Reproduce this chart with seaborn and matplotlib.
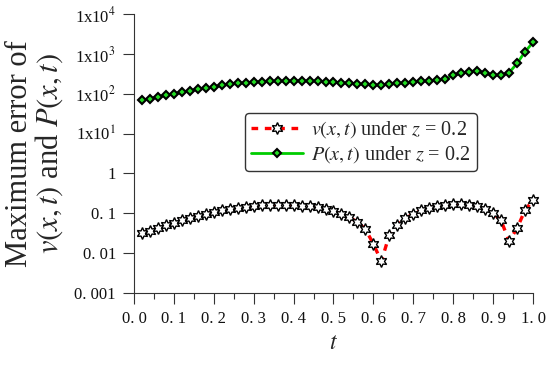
import numpy as np
import pandas as pd
import seaborn as sns
import matplotlib.pyplot as plt
from matplotlib.ticker import FixedLocator

# Data (t = 0.02 ... 1.00)
t_values = [round(0.02 * i, 2) for i in range(1, 51)]

v_error = [0.032, 0.037, 0.043, 0.050, 0.058, 0.068, 0.078, 0.088, 0.098, 0.108,
           0.118, 0.128, 0.138, 0.146, 0.153, 0.158, 0.162, 0.163, 0.161, 0.158,
           0.155, 0.150, 0.140, 0.128, 0.112, 0.097, 0.080, 0.060, 0.040, 0.017,
           0.0062, 0.029, 0.051, 0.075, 0.096, 0.118, 0.138, 0.155, 0.166, 0.172,
           0.172, 0.166, 0.152, 0.130, 0.100, 0.066, 0.020, 0.042, 0.120, 0.215]

p_error = [70, 75, 84, 91, 100, 108, 119, 129, 138, 150,
           163, 172, 182, 190, 197, 202, 205, 207, 209, 210,
           213, 208, 208, 201, 197, 189, 182, 175, 172, 166,
           166, 172, 182, 189, 201, 208, 208, 221, 230, 295,
           324, 357, 379, 324, 295, 295, 337, 578, 1135, 1946]

y_ticks = [1e-3, 1e-2, 1e-1, 1, 1e1, 1e2, 1e3, 1e4]
y_tick_labels = ["0. 001", "0. 01", "0. 1", "1",
                 "1x10$^1$", "1x10$^2$", "1x10$^3$", "1x10$^4$"]
x_ticks = [0.0, 0.1, 0.2, 0.3, 0.4, 0.5, 0.6, 0.7, 0.8, 0.9, 1.0]
x_tick_labels = ["0. 0", "0. 1", "0. 2", "0. 3", "0. 4", "0. 5",
                 "0. 6", "0. 7", "0. 8", "0. 9", "1. 0"]

df = pd.DataFrame({"t": t_values, "v": v_error, "P": p_error})

# Styles
sns.set_theme(style="ticks")
plt.rcParams["font.family"] = ["Liberation Serif", "DejaVu Serif"]
plt.rcParams["mathtext.fontset"] = "stix"

fig = plt.figure(figsize=(5.5, 3.66), dpi=100)
ax = fig.add_axes([0.2436, 0.1995, 0.7255, 0.762])

sns.lineplot(data=df, x="t", y="v", ax=ax, color="#ff0000", linewidth=2.4,
             linestyle=(0, (2.0, 2.0)), marker=(6, 1, 0), markersize=8.5,
             markerfacecolor="white", markeredgecolor="black",
             markeredgewidth=1.0, clip_on=False,
             label="$v(x,t)$ under $z$ = 0.2")
sns.lineplot(data=df, x="t", y="P", ax=ax, color="#00cc00", linewidth=2.0,
             marker="D", markersize=4, markerfacecolor="#22dd22",
             markeredgecolor="black", markeredgewidth=1.5, clip_on=False,
             label="$P(x,t)$ under $z$ = 0.2")

ax.set_yscale("log")
ax.set_ylim(1e-3, 1e4)
ax.set_xlim(0, 1.0)
ax.yaxis.set_major_locator(FixedLocator(y_ticks))
ax.yaxis.set_minor_locator(FixedLocator([]))
ax.set_yticklabels(y_tick_labels)
ax.set_xticks(x_ticks)
ax.set_xticklabels(x_tick_labels)
ax.set_xticks(np.arange(0.05, 1.0, 0.1), minor=True)

ax.tick_params(axis="both", which="major", direction="out", length=8,
               width=0.8, color="#333333", labelcolor="#111111",
               labelsize=12, pad=5)
ax.tick_params(axis="x", which="minor", direction="out", length=4,
               width=0.8, color="#333333")

for side in ["top", "right"]:
    ax.spines[side].set_visible(False)
for side in ["left", "bottom"]:
    ax.spines[side].set_color("#333333")
    ax.spines[side].set_linewidth(0.8)

# Titles and labels
ax.set_xlabel("$t$", fontsize=17, labelpad=4)
ax.set_ylabel("Maximum error of\n$v(x,t)$ and $P(x,t)$", fontsize=22,
              labelpad=7, linespacing=0.95)

leg = ax.legend(loc="upper left", bbox_to_anchor=(0.278, 0.645), fontsize=14.5,
                frameon=True, fancybox=True, edgecolor="black",
                handlelength=2.6, borderpad=0.3, labelspacing=0.2,
                handletextpad=0.4, borderaxespad=0)
leg.get_frame().set_linewidth(1.0)

# Export chart
fig.savefig("out.png", dpi=100)
